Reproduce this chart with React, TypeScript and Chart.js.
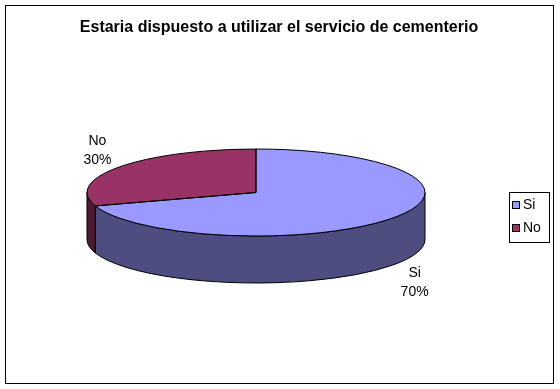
import React, { useEffect, useRef } from "react";
import { Chart, registerables } from "chart.js";

Chart.register(...registerables);

const title = "Estaria dispuesto a utilizar el servicio de cementerio";
const categories = ["Si", "No"];
const values = [70, 30];
const topColors = ["#9999FF", "#993366"];
const wallColors = ["#4D4D80", "#4D1A33"];

const FONT = 'Arial, "Liberation Sans", sans-serif';

const pie3d = {
  id: "pie3d",
  beforeDatasetsDraw(chart: any) {
    const ctx = chart.ctx;
    const o = chart.options.plugins.pie3d;
    const meta = chart.getDatasetMeta(0);
    const el0 = meta.data[0];
    if (!el0) return;
    const cx = el0.x;
    const rx = el0.outerRadius;
    const ry = rx * o.squash;
    const ty = o.centerY;
    const depth = o.depth;
    ctx.save();
    meta.data.forEach((el: any, i: number) => {
      const a1 = el.startAngle;
      const a2 = el.endAngle;
      [-2 * Math.PI, 0, 2 * Math.PI].forEach((shift) => {
        const b1 = Math.max(a1, shift);
        const b2 = Math.min(a2, shift + Math.PI);
        if (b2 <= b1) return;
        ctx.beginPath();
        ctx.ellipse(cx, ty, rx, ry, 0, b1, b2, false);
        ctx.lineTo(cx + Math.cos(b2) * rx, ty + Math.sin(b2) * ry + depth);
        ctx.ellipse(cx, ty + depth, rx, ry, 0, b2, b1, true);
        ctx.closePath();
        ctx.fillStyle = wallColors[i];
        ctx.fill();
        ctx.lineWidth = 1;
        ctx.strokeStyle = "#000";
        ctx.stroke();
      });
    });
    ctx.restore();
    ctx.save();
    ctx.translate(cx, ty);
    ctx.scale(1, o.squash);
    ctx.translate(-cx, -el0.y);
  },
  afterDatasetsDraw(chart: any) {
    const ctx = chart.ctx;
    ctx.restore();
    const o = chart.options.plugins.pie3d;
    const meta = chart.getDatasetMeta(0);
    const el0 = meta.data[0];
    if (!el0) return;
    const cx = el0.x;
    const rx = el0.outerRadius;
    const ry = rx * o.squash;
    const ty = o.centerY;
    ctx.save();
    ctx.lineWidth = 1;
    ctx.strokeStyle = "#000";
    meta.data.forEach((el: any) => {
      ctx.beginPath();
      ctx.moveTo(cx, ty);
      ctx.ellipse(cx, ty, rx, ry, 0, el.startAngle, el.endAngle, false);
      ctx.closePath();
      ctx.stroke();
    });
    ctx.fillStyle = "#000";
    ctx.font = "14px " + FONT;
    ctx.textAlign = "center";
    ctx.textBaseline = "middle";
    const total = values.reduce((a, b) => a + b, 0);
    meta.data.forEach((el: any, i: number) => {
      const m = (el.startAngle + el.endAngle) / 2;
      const lx = cx + Math.cos(m) * rx * 1.16;
      const s = Math.sin(m);
      const ly = ty + s * 72 + (s > 0 ? o.depth : 0);
      ctx.fillText(categories[i], lx, ly - 9);
      ctx.fillText(Math.round((values[i] / total) * 100) + "%", lx, ly + 10);
    });
    ctx.restore();
  },
  afterDraw(chart: any) {
    const ctx = chart.ctx;
    ctx.save();
    ctx.strokeStyle = "#000";
    ctx.lineWidth = 1;
    ctx.strokeRect(5.5, 5.5, 548, 378);
    ctx.fillStyle = "#000";
    ctx.font = "bold 16px " + FONT;
    ctx.textAlign = "center";
    ctx.textBaseline = "middle";
    ctx.fillText(title, 279, 28);
    ctx.strokeRect(509.5, 192.5, 40, 50);
    ctx.font = "14px " + FONT;
    ctx.textAlign = "left";
    categories.forEach((c, i) => {
      const y = 201 + i * 23;
      ctx.fillStyle = topColors[i];
      ctx.fillRect(512.5, y + 0.5, 7, 7);
      ctx.strokeRect(512.5, y + 0.5, 7, 7);
      ctx.fillStyle = "#000";
      ctx.fillText(c, 523, y + 4.5);
    });
    ctx.restore();
  },
};

export default function App() {
  const ref = useRef<HTMLCanvasElement>(null);
  useEffect(() => {
    document.body.style.margin = "0";
    const chart = new Chart(ref.current as HTMLCanvasElement, {
      type: "pie",
      data: {
        labels: categories,
        datasets: [
          {
            data: values,
            backgroundColor: topColors,
            borderWidth: 0,
          },
        ],
      },
      options: {
        responsive: false,
        animation: false,
        radius: 169,
        layout: { padding: { left: 0, right: 48, top: 0, bottom: 0 } },
        plugins: {
          legend: { display: false },
          tooltip: { enabled: false },
          title: { display: false },
          pie3d: { squash: 43.5 / 169, centerY: 192.5, depth: 47 },
        } as any,
      } as any,
      plugins: [pie3d],
    });
    return () => chart.destroy();
  }, []);
  return (
    <div style={{ width: 560, height: 389, background: "#fff" }}>
      <canvas ref={ref} width={560} height={389} />
    </div>
  );
}
